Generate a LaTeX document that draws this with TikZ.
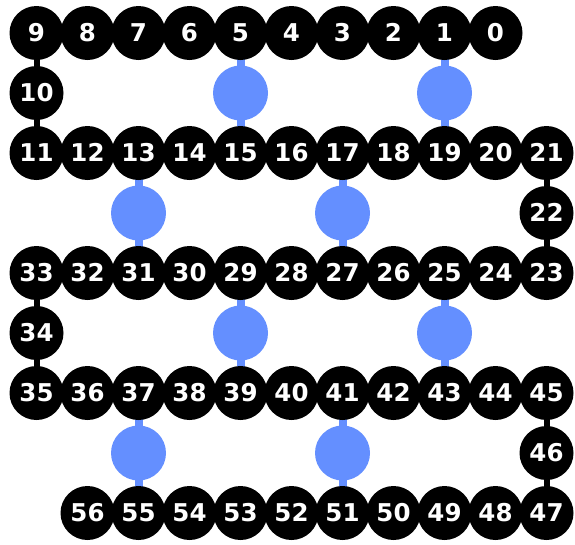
\documentclass[tikz,border=0pt]{standalone}
\usepackage{fontspec}
\setmainfont{DejaVu Sans}
\usetikzlibrary{backgrounds}
\definecolor{qblue}{RGB}{100,143,255}
\begin{document}
\begin{tikzpicture}[x=1pt,y=-1pt,
  qubit/.style={circle,fill=black,minimum size=54pt,inner sep=0pt,text=white,text height=17.8pt,text depth=0pt,font=\fontsize{24.5}{24.5}\selectfont\bfseries},
  anc/.style={circle,fill=qblue,minimum size=55pt,inner sep=0pt},
  bedge/.style={line width=6pt,black},
  cedge/.style={line width=8pt,qblue}]
\useasboundingbox (0,0) rectangle (575,544);
% row 0
\foreach \c in {0,...,9}{
  \pgfmathtruncatemacro\q{9-\c}
  \node[qubit] (q\q) at ({36.5+51*\c},33) {\q};}
\node[qubit] (q10) at (36.5,93) {10};
\foreach \c in {0,...,10}{
  \pgfmathtruncatemacro\q{11+\c}
  \node[qubit] (q\q) at ({36.5+51*\c},153) {\q};}
\node[qubit] (q22) at ({36.5+51*10},213) {22};
\foreach \c in {0,...,10}{
  \pgfmathtruncatemacro\q{33-\c}
  \node[qubit] (q\q) at ({36.5+51*\c},273) {\q};}
\node[qubit] (q34) at (36.5,333) {34};
\foreach \c in {0,...,10}{
  \pgfmathtruncatemacro\q{35+\c}
  \node[qubit] (q\q) at ({36.5+51*\c},393) {\q};}
\node[qubit] (q46) at ({36.5+51*10},453) {46};
\foreach \c in {1,...,10}{
  \pgfmathtruncatemacro\q{57-\c}
  \node[qubit] (q\q) at ({36.5+51*\c},513) {\q};}
% ancillas
\node[anc] (a1) at ({36.5+51*4},93) {};
\node[anc] (a2) at ({36.5+51*8},93) {};
\node[anc] (a3) at ({36.5+51*2},213) {};
\node[anc] (a4) at ({36.5+51*6},213) {};
\node[anc] (a5) at ({36.5+51*4},333) {};
\node[anc] (a6) at ({36.5+51*8},333) {};
\node[anc] (a7) at ({36.5+51*2},453) {};
\node[anc] (a8) at ({36.5+51*6},453) {};
% edges
\begin{scope}[on background layer]
\foreach \a/\b in {q9/q10,q10/q11,q21/q22,q22/q23,q33/q34,q34/q35,q45/q46,q46/q47}
  \draw[bedge] (\a.center) -- (\b.center);
\foreach \a/\b/\c in {q5/a1/q15,q1/a2/q19,q13/a3/q31,q17/a4/q27,q29/a5/q39,q25/a6/q43,q37/a7/q55,q41/a8/q51}
  {\draw[cedge] (\a.center) -- (\b.center); \draw[cedge] (\b.center) -- (\c.center);}
\end{scope}
\end{tikzpicture}
\end{document}
